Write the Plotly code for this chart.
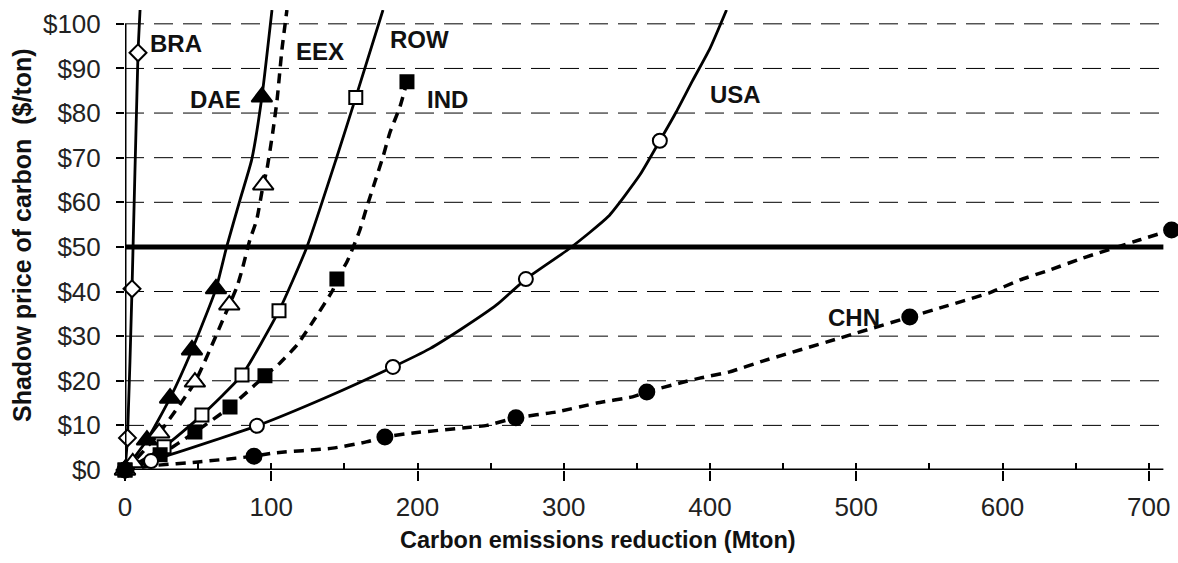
import plotly.graph_objects as go

# ---------------- data ----------------
# marker points per region: x = carbon emissions reduction (Mton), y = shadow price ($/ton)
BRA_x = [0, 1.7, 4.8, 8.9]
BRA_y = [0, 7.2, 40.6, 93.5]
DAE_x = [0, 15.0, 30.8, 45.8, 62.2, 93.6]
DAE_y = [0, 6.7, 16.1, 26.9, 40.6, 83.6]
EEX_x = [0, 5.3, 23.4, 47.8, 71.3, 94.5]
EEX_y = [0, 1.6, 8.3, 19.7, 37.0, 63.9]
ROW_x = [0, 26.7, 52.6, 80.0, 105.3, 157.8]
ROW_y = [0, 5.2, 12.3, 21.3, 35.7, 83.5]
IND_x = [0, 24.0, 47.8, 71.8, 95.7, 144.9, 192.8]
IND_y = [0, 3.4, 8.5, 14.1, 21.1, 42.8, 87.0]
USA_x = [0, 17.8, 90.2, 183.2, 274.1, 365.7]
USA_y = [0, 2.0, 9.9, 23.1, 42.8, 73.8]
CHN_x = [0, 88.2, 177.7, 267.3, 356.8, 536.6, 715.6]
CHN_y = [0, 3.1, 7.4, 11.7, 17.5, 34.3, 53.8]

# smoothed curves (denser points)
BRA_line_x = [0, 1.7, 4.8, 8.9, 10.3]
BRA_line_y = [0, 7.2, 40.6, 93.5, 103.1]
DAE_line_x = [0, 15.0, 30.8, 45.8, 62.2, 69.5, 78.6, 86.6, 93.6, 100.5]
DAE_line_y = [0, 6.7, 16.1, 26.9, 40.6, 50.0, 60.5, 69.5, 83.6, 103.1]
EEX_line_x = [0, 5.3, 23.4, 47.8, 71.3, 76.5, 80.0, 85.4, 90.0, 94.5, 97.0, 101.0, 104.0, 107.3, 110.7]
EEX_line_y = [0, 1.6, 8.3, 19.7, 37.0, 41.0, 44.8, 51.6, 56.0, 63.9, 67.3, 75.6, 83.0, 94.2, 103.1]
ROW_line_x = [0, 26.7, 52.6, 80.0, 105.3, 124.4, 144.9, 157.8, 176.4]
ROW_line_y = [0, 5.2, 12.3, 21.3, 35.7, 50.0, 70.2, 83.5, 103.1]
IND_line_x = [0, 24.0, 47.8, 71.8, 95.7, 106.0, 117.6, 130.0, 142.2, 144.9, 151.7, 157.2,
              160.6, 165.4, 170.9, 176.4, 181.1, 188.0, 192.8]
IND_line_y = [0, 3.4, 8.5, 14.1, 21.1, 24.0, 28.0, 34.0, 40.4, 42.8, 46.6, 50.9,
              53.8, 59.0, 64.6, 70.2, 75.6, 81.4, 87.0]
USA_line_x = [0, 17.8, 90.2, 137.0, 183.2, 208.5, 230.0, 254.0, 274.1, 304.2, 330.4, 352.0,
              365.7, 377.0, 388.0, 400.0, 411.3]
USA_line_y = [0, 2.0, 9.9, 16.2, 23.1, 27.2, 31.6, 37.0, 42.8, 49.7, 56.8, 66.1,
              73.8, 80.3, 87.2, 94.5, 103.1]
CHN_line_x = [0, 20, 50, 88.2, 101, 142, 165, 177.7, 197, 236, 247.4, 267.3, 295, 322.6, 347,
              356.8, 379.4, 393, 413.5, 436, 486, 536.6, 559, 591, 612, 632, 655, 694, 715.6]
CHN_line_y = [0, 1.0, 1.8, 3.1, 3.8, 4.9, 6.3, 7.4, 8.3, 9.6, 10.0, 11.7, 13.0, 15.0, 16.4,
              17.5, 19.5, 20.6, 22.0, 24.4, 29.3, 34.3, 36.5, 39.7, 42.6, 44.8, 47.5, 51.6, 53.8]

LABELS = ["BRA", "DAE", "EEX", "ROW", "IND", "USA", "CHN"]
LABEL_X = [34.9, 62.2, 133.3, 201.6, 220.8, 417.6, 498.3]
LABEL_Y = [95.7, 83.0, 93.7, 96.4, 83.0, 84.1, 34.1]

Y_TICKS = list(range(0, 101, 10))
Y_TICK_TEXT = [f"${v}" for v in Y_TICKS]
X_TICKS = list(range(0, 701, 100))
PRICE_TARGET = 50
X_AXIS_END = 710

FONT = "Liberation Sans, Arial, sans-serif"

series = [
    ("BRA", BRA_x, BRA_y, BRA_line_x, BRA_line_y, False, "diamond", False, 13),
    ("DAE", DAE_x, DAE_y, DAE_line_x, DAE_line_y, False, "triangle-up", True, 18),
    ("EEX", EEX_x, EEX_y, EEX_line_x, EEX_line_y, True, "triangle-up", False, 18),
    ("ROW", ROW_x, ROW_y, ROW_line_x, ROW_line_y, False, "square", False, 13),
    ("IND", IND_x, IND_y, IND_line_x, IND_line_y, True, "square", True, 13),
    ("USA", USA_x, USA_y, USA_line_x, USA_line_y, False, "circle", False, 14),
    ("CHN", CHN_x, CHN_y, CHN_line_x, CHN_line_y, True, "circle", True, 15),
]

fig = go.Figure()

for name, mx, my, lx, ly, dashed, sym, filled, size in series:
    fig.add_trace(go.Scatter(
        x=lx, y=ly, mode="lines", name=name, showlegend=False, hoverinfo="skip",
        line=dict(color="black", width=3.5 if dashed else 2.8,
                  dash="10px,7px" if dashed else "solid",
                  shape="spline", smoothing=0.5),
    ))

for name, mx, my, lx, ly, dashed, sym, filled, size in series:
    fig.add_trace(go.Scatter(
        x=mx, y=my, mode="markers", name=name, showlegend=False, cliponaxis=False,
        marker=dict(symbol=sym, size=size, color="black" if filled else "white",
                    line=dict(color="black", width=2)),
    ))

# region labels
for t, lx, ly in zip(LABELS, LABEL_X, LABEL_Y):
    fig.add_annotation(x=lx, y=ly, text=f"<b>{t}</b>", showarrow=False,
                       font=dict(family=FONT, size=24, color="#111"),
                       xanchor="center", yanchor="middle")

# axis titles (pixel-positioned in paper coords)
PLOT_W = 1178 - 125
PLOT_H = 563 - 10 - 93
fig.add_annotation(xref="paper", yref="paper", x=(598 - 125) / PLOT_W, y=(470 - 540) / PLOT_H,
                   text="<b>Carbon emissions reduction (Mton)</b>", showarrow=False,
                   font=dict(family=FONT, size=23.5, color="#111"),
                   xanchor="center", yanchor="middle")
fig.add_annotation(xref="paper", yref="paper", x=(22 - 125) / PLOT_W, y=(470 - 235) / PLOT_H,
                   text="<b>Shadow price of carbon\u00a0 ($/ton)</b>", showarrow=False,
                   textangle=-90, font=dict(family=FONT, size=25, color="#111"),
                   xanchor="center", yanchor="middle")

# dashed horizontal gridlines, stopping where the x axis ends
for v in Y_TICKS[1:]:
    fig.add_shape(type="line", xref="x", yref="y", x0=0, x1=X_AXIS_END, y0=v, y1=v,
                  line=dict(color="black", width=1, dash="19px,10px"), layer="below")

# $50 reference line, x-axis line and y-axis line (axis stops at $100)
fig.add_shape(type="line", xref="x", yref="y", x0=0, x1=X_AXIS_END, y0=PRICE_TARGET, y1=PRICE_TARGET,
              line=dict(color="black", width=5), layer="below")
fig.add_shape(type="line", xref="x", yref="y", x0=0, x1=X_AXIS_END, y0=0, y1=0,
              line=dict(color="black", width=3), layer="above")
fig.add_shape(type="line", xref="x", yref="y", x0=0, x1=0, y0=0, y1=100,
              line=dict(color="black", width=3), layer="above")

fig.update_layout(
    width=1178, height=563,
    margin=dict(l=125, r=0, t=10, b=93),
    paper_bgcolor="white", plot_bgcolor="white",
    showlegend=False,
    xaxis=dict(range=[0, 720], tickvals=X_TICKS, ticktext=[str(v) for v in X_TICKS],
               showgrid=False, zeroline=False, showline=False,
               ticks="outside", ticklen=10, tickwidth=2, tickcolor="black",
               minor=dict(dtick=50, tick0=0, ticks="inside", ticklen=7, tickwidth=2,
                          tickcolor="black", showgrid=False),
               tickfont=dict(family=FONT, size=26, color="#222"),
               ticklabelstandoff=4),
    yaxis=dict(range=[0, 103.1], tickvals=Y_TICKS, ticktext=Y_TICK_TEXT,
               showgrid=False, zeroline=False, showline=False,
               ticks="outside", ticklen=8, tickwidth=2, tickcolor="black",
               tickfont=dict(family=FONT, size=26, color="#222"),
               ticklabelstandoff=10),
)

fig.write_html("out.html")
